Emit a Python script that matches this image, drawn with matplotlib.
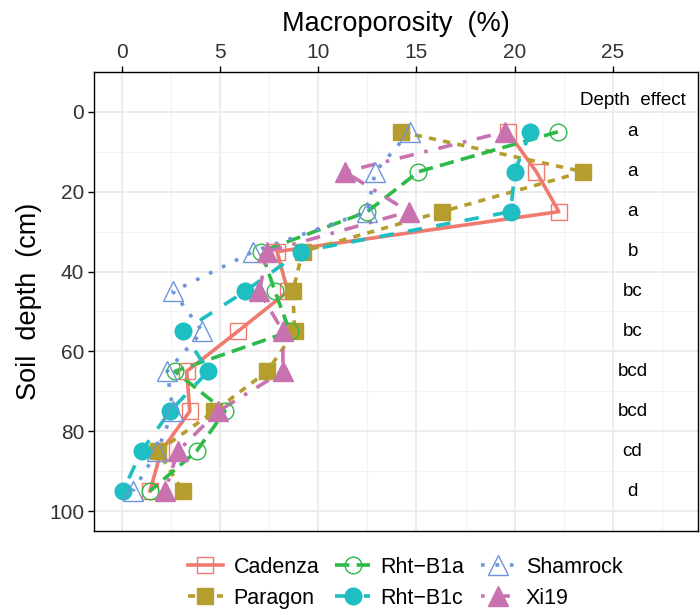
import matplotlib
matplotlib.use("Agg")
import matplotlib.pyplot as plt
from matplotlib.lines import Line2D

plt.rcParams['font.family'] = ['Liberation Sans', 'DejaVu Sans']

depth = [5, 15, 25, 35, 45, 55, 65, 75, 85, 95]
cadenza  = [19.65, 21.1, 22.25, 7.9, 8.45, 5.9, 3.3, 3.46, 2.0, 1.43]
paragon  = [14.2, 23.5, 16.3, 9.2, 8.7, 8.8, 7.4, 4.7, 1.85, 3.1]
rht_b1a  = [22.2, 15.1, 12.5, 7.1, 7.8, 8.55, 2.7, 5.25, 3.8, 1.43]
rht_b1c  = [20.8, 20.0, 19.8, 9.1, 6.26, 3.1, 4.4, 2.45, 1.0, 0.05]
shamrock = [14.65, 12.9, 12.5, 6.7, 2.6, 4.1, 2.3, 2.6, 1.8, 0.56]
xi19     = [19.5, 11.35, 14.6, 7.4, 7.0, 8.2, 8.2, 4.9, 2.85, 2.2]
letters = ["a", "a", "a", "b", "bc", "bc", "bcd", "bcd", "cd", "d"]

names = ["Cadenza", "Paragon", "Rht\u2212B1a", "Rht\u2212B1c", "Shamrock", "Xi19"]
series = [cadenza, paragon, rht_b1a, rht_b1c, shamrock, xi19]
colors = ["#F07A70", "#B59E2E", "#2DBA48", "#1EBEC2", "#6E94DC", "#C972B0"]
markers = ["s", "s", "o", "o", "^", "^"]
msizes = [12, 12, 12, 12, 14, 14]
filled = [False, True, False, True, False, True]
lw = 2.6
dashes = [None, (2, 2), (4, 2), (4, 4), (1, 3), (1, 3, 4, 3)]

fig = plt.figure(figsize=(7, 6.15), dpi=100)
ax = fig.add_axes([0.134, 0.1366, 0.863, 0.7464])

for v in [0, 5, 10, 15, 20, 25]:
    ax.axvline(v, color="#EBEBEB", lw=1.3, zorder=0)
for v in [2.5, 7.5, 12.5, 17.5, 22.5, 27.5]:
    ax.axvline(v, color="#F2F2F2", lw=0.8, zorder=0)
for v in [0, 20, 40, 60, 80, 100]:
    ax.axhline(v, color="#EBEBEB", lw=1.3, zorder=0)
for v in [-10, 10, 30, 50, 70, 90]:
    ax.axhline(v, color="#F2F2F2", lw=0.8, zorder=0)

handles = []
for s, c, m, ms, f, d, n in zip(series, colors, markers, msizes, filled, dashes, names):
    ln, = ax.plot(s, depth, color=c, lw=lw, zorder=2)
    if d is not None:
        ln.set_dashes(d)
    h = Line2D([], [], color=c, lw=lw, marker=m, markersize=ms,
               markerfacecolor=(c if f else "none"), markeredgecolor=c,
               markeredgewidth=1.0)
    if d is not None:
        h.set_dashes(d)
    handles.append(h)

for s, c, m, ms, f in zip(series, colors, markers, msizes, filled):
    ax.plot(s, depth, ls="none", marker=m, markersize=ms,
            markerfacecolor=(c if f else "none"), markeredgecolor=c,
            markeredgewidth=1.0, zorder=3)

ax.text(26.0, -2.8, "Depth  effect", ha="center", va="center", fontsize=13.5, color="black")
for dd, lt in zip(depth, letters):
    ax.text(26.0, dd, lt, ha="center", va="center", fontsize=13.5, color="black")

ax.set_xlim(-1.43, 29.33)
ax.set_ylim(105, -10)
ax.set_xticks([0, 5, 10, 15, 20, 25])
ax.set_yticks([0, 20, 40, 60, 80, 100])
ax.xaxis.tick_top()
ax.xaxis.set_label_position("top")
ax.tick_params(axis="both", labelsize=15, colors="black", labelcolor="#333333",
               length=4, width=1, pad=3)
ax.set_xlabel("Macroporosity  (%)", fontsize=19.5, labelpad=9)
ax.set_ylabel("Soil  depth  (cm)", fontsize=19.5, labelpad=5)
for sp in ax.spines.values():
    sp.set_color("black")
    sp.set_linewidth(1.0)

fig.legend(handles=handles, labels=names, loc="center", bbox_to_anchor=(0.579, 0.0525),
           ncol=3, frameon=False, fontsize=15.5, handlelength=1.6,
           columnspacing=0.75, labelspacing=0.45, handletextpad=0.5)

fig.savefig("out.png", dpi=100)
